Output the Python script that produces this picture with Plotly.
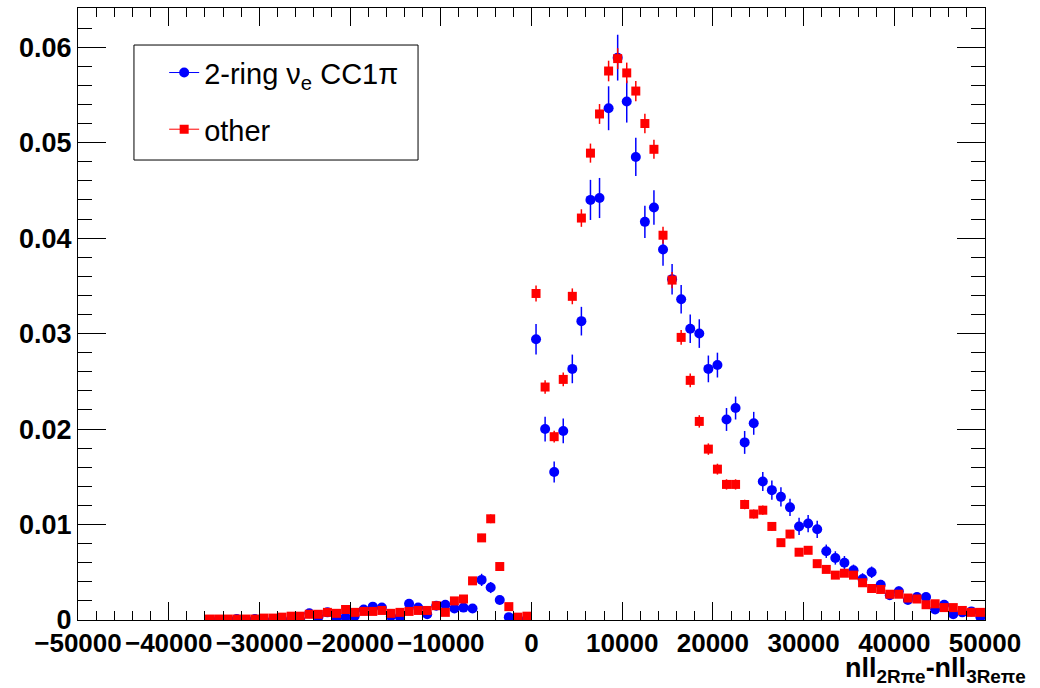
import plotly.graph_objects as go

# ---------------- data (bin centres, 1000-wide bins) ----------------
bin_centers = [
    -35500, -34500, -33500, -32500, -31500, -30500,
    -29500, -28500, -27500, -26500, -25500, -24500, -23500, -22500, -21500, -20500,
    -19500, -18500, -17500, -16500, -15500, -14500, -13500, -12500, -11500, -10500,
    -9500, -8500, -7500, -6500, -5500, -4500, -3500, -2500, -1500, -500,
    500, 1500, 2500, 3500, 4500, 5500, 6500, 7500, 8500, 9500,
    10500, 11500, 12500, 13500, 14500, 15500, 16500, 17500, 18500, 19500,
    20500, 21500, 22500, 23500, 24500, 25500, 26500, 27500, 28500, 29500,
    30500, 31500, 32500, 33500, 34500, 35500, 36500, 37500, 38500, 39500,
    40500, 41500, 42500, 43500, 44500, 45500, 46500, 47500, 48500, 49500,
]

signal_vals = [  # 2-ring nu_e CC1pi
    0, 0, 0, 0.0001, 0, 0.0001,
    0, 0, 0, 0.0001, 0, 0.0007, 0.0003, 0.0008, 0.0002, 0.0003,
    0.0004, 0.0011, 0.0014, 0.0013, 0.0004, 0.0003, 0.0017, 0.0013, 0.0006, 0.0015,
    0.0016, 0.0012, 0.0013, 0.0012, 0.0042, 0.0034, 0.0021, 0.0003, 0.0001, 0.0001,
    0.0294, 0.0200, 0.0155, 0.0198, 0.0263, 0.0313, 0.0440, 0.0442, 0.0536, 0.0589,
    0.0543, 0.0485, 0.0417, 0.0432, 0.0388, 0.0357, 0.0336, 0.0305, 0.0300, 0.0263,
    0.0267, 0.0210, 0.0222, 0.0186, 0.0206, 0.0145, 0.0136, 0.0129, 0.0118, 0.0098,
    0.0101, 0.0095, 0.0072, 0.0065, 0.0060, 0.0052, 0.0043, 0.0050, 0.0037, 0.0026,
    0.0030, 0.0021, 0.0024, 0.0024, 0.0011, 0.0016, 0.0006, 0.0008, 0.0009, 0.0003,
]
signal_errs = [
    0, 0, 0, 0.0001, 0, 0.0001,
    0, 0, 0, 0.0001, 0, 0.00026, 0.00017, 0.00028, 0.00014, 0.00017,
    0.0002, 0.00033, 0.00037, 0.00036, 0.0002, 0.00017, 0.00041, 0.00036, 0.00024, 0.00038,
    0.0004, 0.00034, 0.00036, 0.00034, 0.00064, 0.00058, 0.00045, 0.00017, 0.0001, 0.0001,
    0.0016, 0.0013, 0.0011, 0.0013, 0.0015, 0.0015, 0.0021, 0.0021, 0.0023, 0.0024,
    0.0022, 0.0020, 0.0017, 0.0018, 0.0017, 0.0016, 0.0015, 0.0015, 0.0015, 0.0014,
    0.0013, 0.0012, 0.0012, 0.0012, 0.0012, 0.0010, 0.0010, 0.0010, 0.0009, 0.0009,
    0.0009, 0.0009, 0.0007, 0.0007, 0.0007, 0.0006, 0.0006, 0.0006, 0.0005, 0.0005,
    0.0005, 0.0004, 0.0004, 0.0004, 0.0003, 0.0004, 0.0002, 0.0003, 0.0003, 0.0002,
]

other_vals = [
    0.0001, 0.0001, 0.0001, 0.0001, 0.0001, 0.0001,
    0.0002, 0.0002, 0.0003, 0.0004, 0.0004, 0.0006, 0.0006, 0.0008, 0.0007, 0.0011,
    0.0008, 0.0009, 0.0009, 0.0010, 0.0007, 0.0008, 0.0009, 0.0010, 0.0010, 0.0015,
    0.0008, 0.0020, 0.0022, 0.0041, 0.0086, 0.0106, 0.0056, 0.0014, 0.0003, 0.0004,
    0.0342, 0.0244, 0.0192, 0.0252, 0.0339, 0.0421, 0.0489, 0.0530, 0.0575, 0.0588,
    0.0573, 0.0554, 0.0520, 0.0493, 0.0403, 0.0356, 0.0296, 0.0251, 0.0208, 0.0179,
    0.0158, 0.0142, 0.0142, 0.0121, 0.0111, 0.0115, 0.0098, 0.0081, 0.0090, 0.0071,
    0.0073, 0.0059, 0.0053, 0.0047, 0.0049, 0.0047, 0.0039, 0.0033, 0.0032, 0.0027,
    0.0027, 0.0023, 0.0022, 0.0016, 0.0017, 0.0013, 0.0013, 0.0010, 0.0008, 0.0008,
]
other_errs = [
    0.00005, 0.00005, 0.00005, 0.00005, 0.00005, 0.00005,
    0.00006, 0.00006, 0.00008, 0.00009, 0.00009, 0.00011, 0.00011, 0.00013, 0.00012, 0.00015,
    0.00013, 0.00014, 0.00014, 0.00014, 0.00012, 0.00013, 0.00014, 0.00014, 0.00014, 0.00017,
    0.00013, 0.0002, 0.00021, 0.00029, 0.00042, 0.00046, 0.00034, 0.00017, 0.00008, 0.00009,
    0.00083, 0.0007, 0.00062, 0.00071, 0.00083, 0.00092, 0.001, 0.00104, 0.00108, 0.00109,
    0.00108, 0.00106, 0.00103, 0.001, 0.0009, 0.00085, 0.00077, 0.00071, 0.00065, 0.0006,
    0.00057, 0.00054, 0.00054, 0.0005, 0.00047, 0.00048, 0.00045, 0.00041, 0.00043, 0.00038,
    0.00038, 0.00035, 0.00033, 0.00031, 0.00031, 0.00031, 0.00028, 0.00026, 0.00025, 0.00023,
    0.00023, 0.00022, 0.00021, 0.00018, 0.00019, 0.00016, 0.00016, 0.00014, 0.00013, 0.00013,
]

signal_name = "2-ring \u03bd<sub>e</sub> CC1\u03c0"
other_name = "other"
x_title = "<b>nll<sub>2R\u03c0e</sub>-nll<sub>3Re\u03c0e</sub></b>"

X_RANGE = [-50000, 50000]
Y_RANGE = [0, 0.0641]

BLUE = "#0000ff"
RED = "#ff0000"
FONT = "Liberation Sans, Arial, Helvetica, sans-serif"

fig = go.Figure()

fig.add_trace(go.Scatter(
    x=bin_centers, y=signal_vals, mode="markers", showlegend=False,
    marker=dict(symbol="circle", size=10, color=BLUE),
    error_y=dict(type="data", array=signal_errs, visible=True, color=BLUE,
                 thickness=1.5, width=0),
))
fig.add_trace(go.Scatter(
    x=bin_centers, y=other_vals, mode="markers", showlegend=False,
    marker=dict(symbol="square", size=9, color=RED),
    error_y=dict(type="data", array=other_errs, visible=True, color=RED,
                 thickness=1.5, width=0),
))

# legend-only entries (line + marker, as in the reference legend)
fig.add_trace(go.Scatter(
    x=[None], y=[None], mode="lines+markers", name=signal_name, legendgroup="a",
    line=dict(color=BLUE, width=1), marker=dict(symbol="circle", size=10, color=BLUE),
))
fig.add_trace(go.Scatter(
    x=[None], y=[None], mode="lines+markers", name=other_name, legendgroup="b",
    line=dict(color=RED, width=1), marker=dict(symbol="square", size=9, color=RED),
))

axis_common = dict(
    showgrid=False, zeroline=False, showline=True, linecolor="black", linewidth=1,
    mirror="ticks", ticks="inside", tickcolor="black", tickwidth=1,
)

fig.update_xaxes(
    range=X_RANGE, dtick=10000, tick0=0, ticklen=18, tickangle=0,
    tickformat="d",
    tickfont=dict(family=FONT, size=26, color="black", weight="bold"),
    minor=dict(dtick=2000, ticks="inside", ticklen=9, tickcolor="black", tickwidth=1),
    **axis_common,
)
fig.update_yaxes(
    range=Y_RANGE, dtick=0.01, tick0=0, ticklen=28,
    tickfont=dict(family=FONT, size=27, color="black", weight="bold"),
    minor=dict(dtick=0.002, ticks="inside", ticklen=14, tickcolor="black", tickwidth=1),
    **axis_common,
)

fig.update_layout(
    width=1040, height=688,
    margin=dict(l=78, r=55, t=8, b=68, pad=0),
    paper_bgcolor="white", plot_bgcolor="white",
    showlegend=True,
    legend=dict(
        x=0.095, y=0.936, xanchor="left", yanchor="top",
        bgcolor="rgba(0,0,0,0)", borderwidth=0,
        font=dict(family=FONT, size=29, color="black"),
        tracegroupgap=16, traceorder="grouped",
    ),
    shapes=[dict(
        type="rect", xref="paper", yref="paper",
        x0=0.0617, x1=0.3749, y0=0.7516, y1=0.9395,
        line=dict(color="black", width=1), fillcolor="white", layer="below",
    )],
    annotations=[dict(
        text=x_title, xref="paper", yref="paper", x=1.0474, y=-0.113,
        xanchor="right", yanchor="bottom", showarrow=False,
        font=dict(family=FONT, size=27, color="black"),
    )],
)

fig.write_html("out.html", config={"displayModeBar": False},
               post_script="document.body.style.margin='0';")
